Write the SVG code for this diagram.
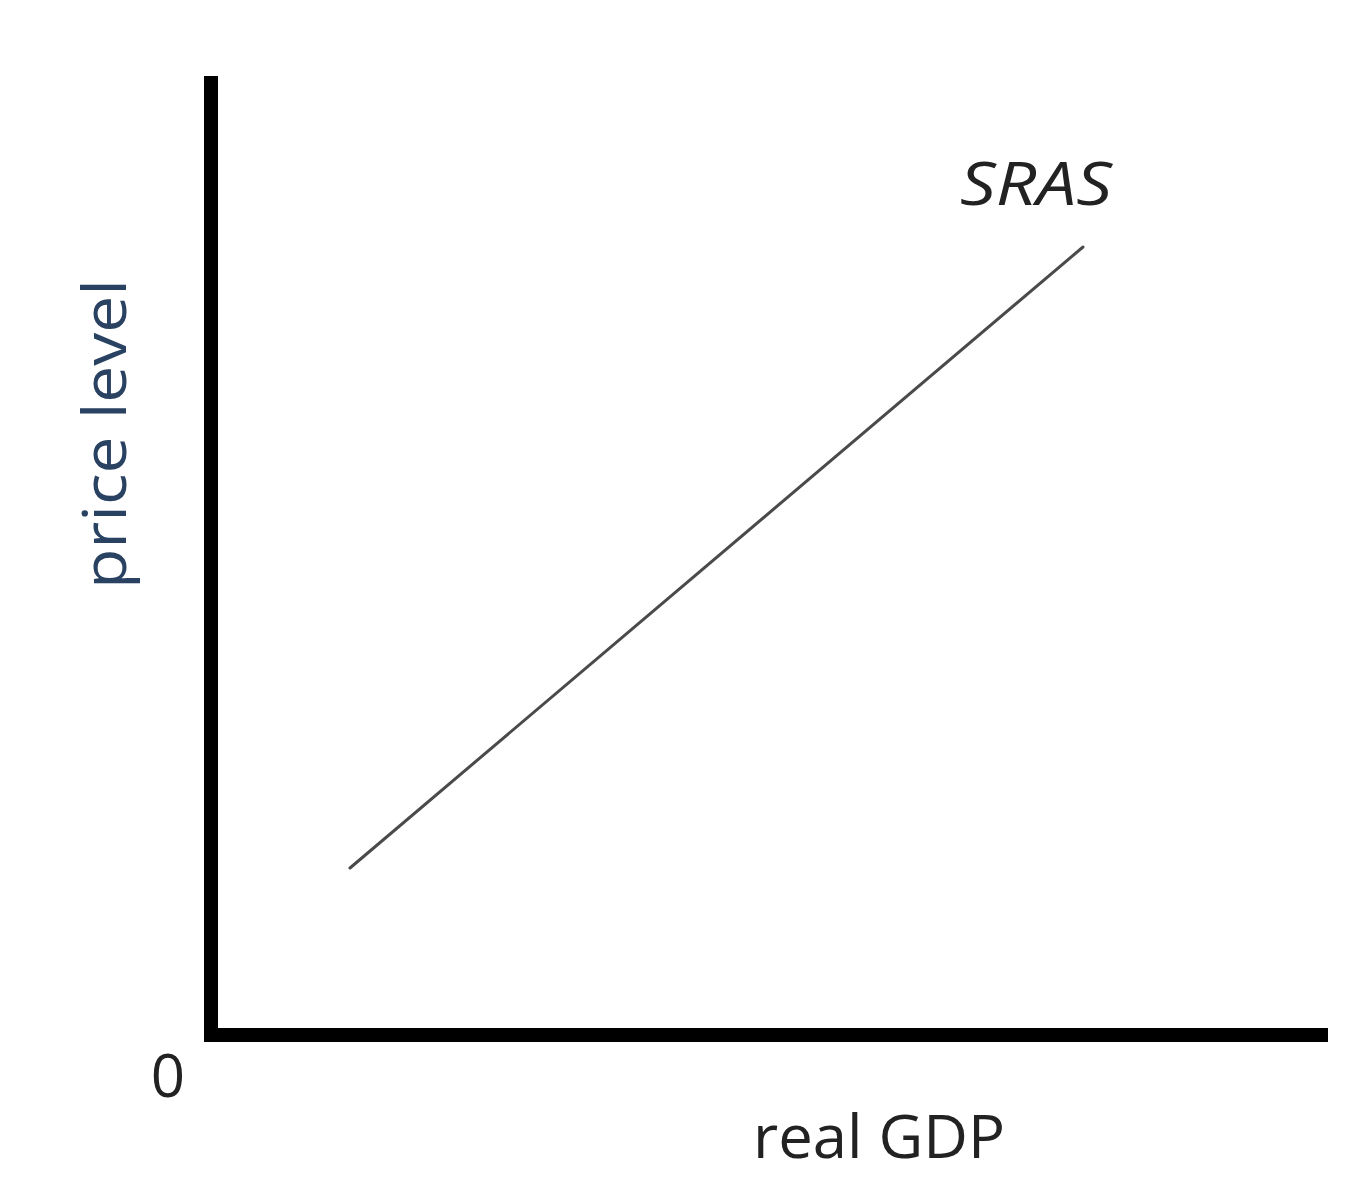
<svg xmlns="http://www.w3.org/2000/svg" width="1354" height="1200" viewBox="0 0 1354 1200">
<style>
.axis{stroke:#000;stroke-width:14;fill:none}
.curve{stroke:#4a4a4a;stroke-width:3;fill:none;stroke-linecap:round}
.lbl{font-family:"Open Sans","Liberation Sans",sans-serif;font-size:60px;fill:#222}
</style>
<rect width="1354" height="1200" fill="#fff"/>
<g id="axes">
<line class="axis" x1="211" y1="76" x2="211" y2="1042"/>
<line class="axis" x1="204" y1="1035" x2="1328" y2="1035"/>
</g>
<g id="connectors">
<line class="curve" x1="350" y1="868" x2="1083" y2="247"/>
</g>
<g id="labels">
<text class="lbl" x="0" y="0" transform="translate(126,434) rotate(-90)" text-anchor="middle" textLength="310" lengthAdjust="spacingAndGlyphs" style="fill:#2a4262">price level</text>
<text class="lbl" x="1036" y="205" text-anchor="middle" font-style="italic" textLength="152" lengthAdjust="spacingAndGlyphs">SRAS</text>
<text class="lbl" x="168" y="1097" text-anchor="middle">0</text>
<text class="lbl" x="879" y="1158" text-anchor="middle" textLength="252" lengthAdjust="spacingAndGlyphs">real GDP</text>
</g>
</svg>
